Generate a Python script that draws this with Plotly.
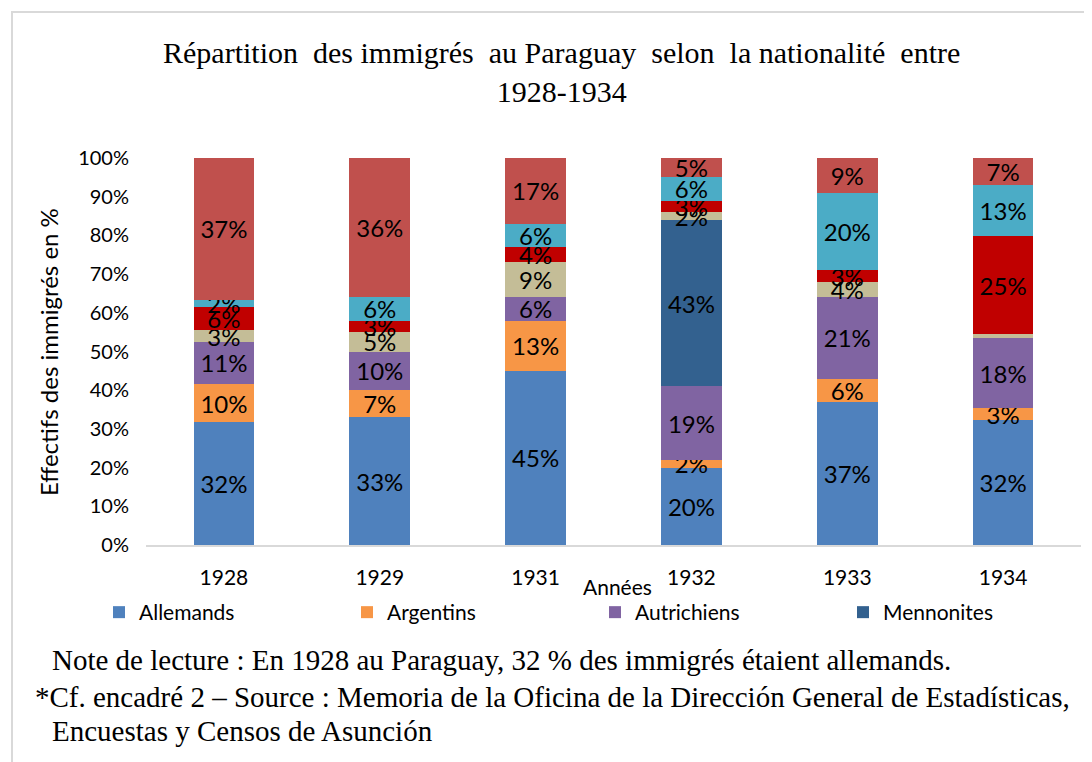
import plotly.graph_objects as go

years = ["1928", "1929", "1931", "1932", "1933", "1934"]

allemands   = [32, 33, 45, 20, 37, 32]
argentins   = [10, 7, 13, 2, 6, 3]
autrichiens = [11, 10, 6, 19, 21, 18]
mennonites  = [0, 0, 0, 43, 0, 0]
serie5      = [3, 5, 9, 2, 4, 1]
serie6      = [6, 3, 4, 3, 3, 25]
serie7      = [2, 6, 6, 6, 20, 13]
serie8      = [37, 36, 17, 5, 9, 7]

series = [
    ("Allemands", allemands, "#4F81BD", True),
    ("Argentins", argentins, "#F79646", True),
    ("Autrichiens", autrichiens, "#8064A2", True),
    ("Mennonites", mennonites, "#33618F", True),
    ("Série 5", serie5, "#C4BD97", False),
    ("Série 6", serie6, "#C00000", False),
    ("Série 7", serie7, "#4BACC6", False),
    ("Série 8", serie8, "#C0504D", False),
]

fig = go.Figure()
for name, vals, color, show in series:
    texts = [f"{v}%" if v >= 2 else "" for v in vals]
    fig.add_trace(go.Bar(
        x=years, y=vals, name=name, marker=dict(color=color, line=dict(width=0)),
        text=texts, textposition="inside", insidetextanchor="middle",
        textfont=dict(family="Lato", size=24, color="black"),
        constraintext="none", showlegend=show, hoverinfo="skip",
    ))

# page has an 8px body margin: the figure is drawn from (8, 8)
OFF = 8
W, H = 1092 - OFF, 762 - OFF
PL, PR, PT, PB = 146, 1081, 158, 545   # plot area in page pixels
L, T = PL - OFF, PT - OFF
R = 1092 - PR
B = 762 - PB
pw = PR - PL
ph = PB - PT

def px(x):
    return (x - PL) / pw

def py(y):
    return (PB - y) / ph

fig.update_layout(
    barmode="stack", barnorm="percent", bargap=0.61,
    width=W, height=H,
    margin=dict(l=L, r=R, t=T, b=B),
    paper_bgcolor="white", plot_bgcolor="white",
    uniformtext=dict(minsize=24, mode="show"),
    font=dict(family="Lato", color="black"),
    xaxis=dict(type="category", showline=True, linecolor="#D9D9D9", linewidth=1.5,
               ticks="", tickfont=dict(size=21, family="Lato"), ticklabelstandoff=13),
    yaxis=dict(range=[0, 100], dtick=10, ticksuffix="%", showgrid=False,
               zeroline=False, showline=False, tickfont=dict(size=20, family="Lato"),
               ticklabelstandoff=16),
    legend=dict(orientation="h", x=px(99), y=py(592), xanchor="left", yanchor="top",
                entrywidth=203, font=dict(size=21, family="Lato"), traceorder="normal",
                itemwidth=30),
    shapes=[dict(type="rect", xref="paper", yref="paper",
                 x0=px(12), x1=px(1100), y0=py(780), y1=py(12),
                 line=dict(color="#D9D9D9", width=2), layer="below")],
    annotations=[
        dict(text="Répartition  des immigrés  au Paraguay  selon  la nationalité  entre<br>1928-1934",
             xref="paper", yref="paper", x=px(561), y=py(72), xanchor="center", yanchor="middle",
             showarrow=False, font=dict(family="Liberation Serif", size=30, color="black")),
        dict(text="Années", xref="paper", yref="paper", x=px(617), y=py(586),
             xanchor="center", yanchor="middle", showarrow=False,
             font=dict(family="Lato", size=21, color="black")),
        dict(text="Effectifs des immigrés en %", xref="paper", yref="paper",
             x=px(48), y=py(352), xanchor="center", yanchor="middle", textangle=-90,
             showarrow=False, font=dict(family="Lato", size=24, color="black")),
        dict(text="Note de lecture : En 1928 au Paraguay, 32 % des immigrés étaient allemands.",
             xref="paper", yref="paper", x=px(50), y=py(660), xanchor="left", yanchor="middle",
             showarrow=False, font=dict(family="Liberation Serif", size=29, color="black")),
        dict(text="*Cf. encadré 2 – Source : Memoria de la Oficina de la Dirección General de Estadísticas,",
             xref="paper", yref="paper", x=px(33), y=py(697), xanchor="left", yanchor="middle",
             showarrow=False, font=dict(family="Liberation Serif", size=29, color="black")),
        dict(text="Encuestas y Censos de Asunción",
             xref="paper", yref="paper", x=px(50), y=py(731), xanchor="left", yanchor="middle",
             showarrow=False, font=dict(family="Liberation Serif", size=29, color="black")),
    ],
)

fig.write_html("out.html")
